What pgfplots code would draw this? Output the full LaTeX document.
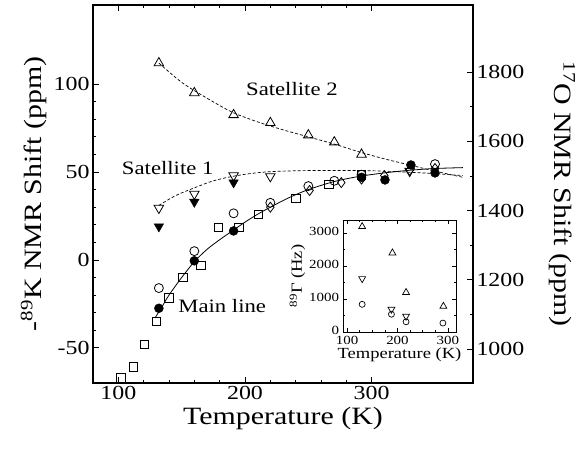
\documentclass[border=0pt]{standalone}
\usepackage{fontspec}
\setmainfont{Liberation Serif}[FakeStretch=1.2]
\usepackage{pgfplots}
\pgfplotsset{compat=1.18}

\pgfplotsset{
  common/.style={
    scale only axis, width=380bp, height=378bp,
    xmin=80, xmax=380,
    tick align=inside,
    major tick length=6bp, minor tick length=3.5bp,
    axis line style={line width=1.2bp},
    every tick/.style={black, line width=0.8bp},
    tick label style={font=\fontsize{20}{22}\selectfont},
    label style={font=\fontsize{25}{28}\selectfont},
    /pgf/number format/assume math mode=true,
    /pgf/number format/1000 sep={},
    scaled ticks=false,
  },
}

\begin{document}
\begin{tikzpicture}
\begin{axis}[
  common,
  ymin=-70, ymax=145,
  xtick={100,200,300}, minor x tick num=4,
  ytick={-50,0,50,100}, minor y tick num=4,
  xtick pos=both, ytick pos=left,
  xlabel={Temperature (K)},
  ylabel={-\textsuperscript{89}K NMR Shift (ppm)},
]
% fitted curves
\addplot[black, line width=0.7bp, dash pattern=on 3bp off 2bp, smooth] coordinates {
  (132,112)(150,101)(170,92)(190,84)(210,78.5)(230,74)(250,70)(270,66)
  (290,61.5)(310,57.5)(330,54)(350,50.5)(372,47)};
\addplot[black, line width=0.7bp, dash pattern=on 3bp off 2bp, smooth] coordinates {
  (132,31)(145,36.5)(160,41)(175,45)(190,47.5)(205,49.2)(220,50.2)(240,50.7)
  (260,50.9)(280,50.9)(300,50.7)(320,50.2)(340,49.5)(355,48.8)(372,48)};
\addplot[black, line width=0.8bp, smooth] coordinates {
  (129,-33)(135,-26)(140,-20)(150,-10)(160,-1)(170,6)(180,11.5)(190,16.5)
  (200,21.5)(210,26)(220,30)(235,35.5)(250,40)(270,44.5)(290,47.5)(310,49.5)
  (330,51)(350,52)(372,52.5)};

% squares
\addplot[only marks, mark=square, mark size=4.3bp, mark options={black, line width=0.8bp, fill=white}] coordinates {
  (102,-67)(112,-61)(120.5,-48)(130,-35)(140,-21.5)(151,-10)(165,-3)
  (179,18.5)(195,18.5)(210.5,26)(240,35)(266,43)(292,48.5)};
% diamonds
\addplot[only marks, mark=diamond, mark size=5bp, mark options={black, line width=0.8bp}] coordinates {
  (220,30)(251,39.5)(276,44)(292,46)(310,48)(330,51)(350,52)};
% open circles
\addplot[only marks, mark=o, mark size=4.5bp, mark options={black, line width=0.8bp}] coordinates {
  (132,-16)(160,5)(191,26.5)(220,32.5)(250,42)(270.5,45)(292,48.5)(350,54.5)};
% filled circles
\addplot[only marks, mark=*, mark size=4.5bp, mark options={black, fill=black}] coordinates {
  (132,-27.5)(160,-0.5)(191,16.5)(292,47)(310.5,45.5)(331,54)(350,49.5)};
% satellite 2 (up triangles)
\addplot[only marks, mark=triangle, mark size=5.5bp, mark options={black, line width=0.8bp}] coordinates {
  (132,112)(160,95)(191,82.5)(220,78)(250,71)(270.5,67)(292,60)};
% satellite 1 (down triangles)
\addplot[only marks, mark=triangle, mark size=5.5bp, mark options={black, line width=0.8bp, rotate=180}] coordinates {
  (132,29.5)(160,37.5)(191,48)(220,47.5)(330,50.5)};
\addplot[only marks, mark=triangle*, mark size=5.5bp, mark options={black, fill=black, rotate=180}] coordinates {
  (132,19)(160,33)(191,44)};

\node[font=\fontsize{19}{21}\selectfont] at (axis cs:237,97) {Satellite 2};
\node[font=\fontsize{19}{21}\selectfont] at (axis cs:139,52) {Satellite 1};
\node[font=\fontsize{19}{21}\selectfont] at (axis cs:182,-26.5) {Main line};
\end{axis}

\begin{axis}[
  common,
  ymin=902, ymax=1994,
  axis x line=none, axis y line*=right,
  tick align=inside,
  ytick={1000,1200,1400,1600,1800}, minor y tick num=1,
  ylabel={\textsuperscript{17}O NMR Shift (ppm)},
  ylabel style={rotate=180, at={(rel axis cs:1.235,0.5)}, anchor=center},
]
\end{axis}

% inset
\begin{axis}[
  at={(250bp,51bp)}, anchor=south west,
  scale only axis, width=113bp, height=112bp,
  xmin=92, xmax=316, ymin=0, ymax=3400,
  xtick={100,200,300}, ytick={0,1000,2000,3000},
  minor x tick num=3, minor y tick num=1,
  tick align=inside,
  major tick length=4bp, minor tick length=2bp,
  axis line style={line width=1bp},
  every tick/.style={black, line width=0.6bp},
  axis background/.style={fill=white},
  tick label style={font=\fontsize{12.5}{14}\selectfont},
  yticklabel style={yshift=1.5bp, xshift=-0.5bp},
  xticklabel style={yshift=-0.5bp},
  label style={font=\fontsize{15.5}{17}\selectfont},
  /pgf/number format/assume math mode=true,
  /pgf/number format/1000 sep={},
  scaled ticks=false,
  xlabel={Temperature (K)},
  ylabel={\textsuperscript{89}Γ (Hz)},
  xlabel style={yshift=3bp},
  ylabel style={yshift=-3bp},
]
\addplot[only marks, mark=triangle, mark size=4bp, mark options={black, line width=0.7bp}] coordinates {
  (130,3200)(190,2400)(217,1200)(291,780)};
\addplot[only marks, mark=triangle, mark size=4bp, mark options={black, line width=0.7bp, rotate=180}] coordinates {
  (130,1620)(188,690)(217,480)};
\addplot[only marks, mark=o, mark size=3bp, mark options={black, line width=0.7bp}] coordinates {
  (130,840)(188,540)(217,310)(290,270)};
\end{axis}

\pgfresetboundingbox
\path[use as bounding box] (-93bp,-72bp) rectangle (490bp,383bp);
\end{tikzpicture}
\end{document}
